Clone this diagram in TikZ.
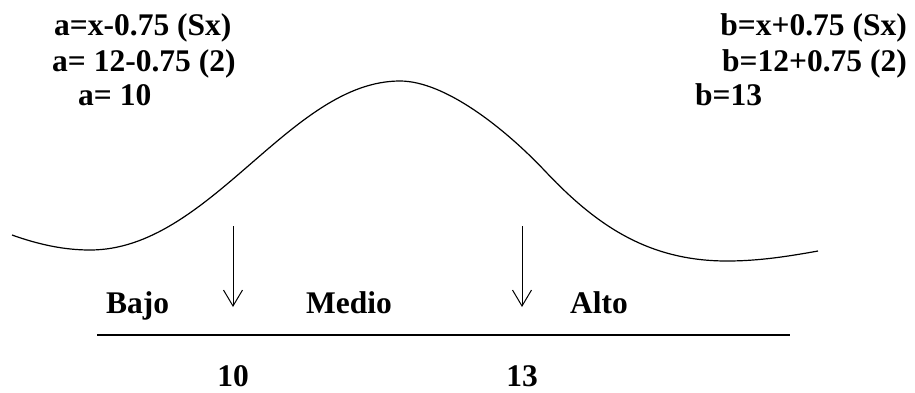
\documentclass[tikz,border=0pt]{standalone}
\usepackage{fontspec}
\setmainfont{Liberation Serif}
\usetikzlibrary{arrows.meta}
\begin{document}
\begin{tikzpicture}[x=1pt,y=-1pt,
  lbl/.style={font=\fontsize{31.5}{36}\selectfont\bfseries,inner sep=0pt},
  pointer/.style={line width=1pt,-{Straight Barb[length=16pt,width=19pt,line width=1pt]}}]
\useasboundingbox (0,0) rectangle (915,392);
\node[lbl,anchor=base west] (a1) at (54,35) {a=x-0.75 (Sx)};
\node[lbl,anchor=base west] (a2) at (52,71) {a= 12-0.75 (2)};
\node[lbl,anchor=base west] (a3) at (78,105) {a= 10};
\node[lbl,anchor=base east] (b1) at (907,35) {b=x+0.75 (Sx)};
\node[lbl,anchor=base east] (b2) at (907,71) {b=12+0.75 (2)};
\node[lbl,anchor=base west] (b3) at (695,105) {b=13};
% bell curve
\draw[line width=1.2pt] (12,235) .. controls (40,245) and (65,250) .. (90,250)
  .. controls (210,250) and (290,81) .. (400,81)
  .. controls (445,81) and (505,128.6) .. (545,171)
  .. controls (595,224) and (647,261) .. (727,261)
  .. controls (760,261) and (790,256) .. (818,251);
\coordinate (lt) at (233,226);
\coordinate (lb) at (233,307);
\coordinate (rt) at (522,226);
\coordinate (rb) at (522,307);
\draw[pointer] (lt) -- (lb);
\draw[pointer] (rt) -- (rb);
\node[lbl,anchor=base west] (bajo) at (106,313) {Bajo};
\node[lbl,anchor=base west] (medio) at (306,313) {Medio};
\node[lbl,anchor=base west] (alto) at (570,313) {Alto};
\coordinate (axl) at (97,335);
\coordinate (axr) at (790,335);
\draw[line width=1.4pt] (axl) -- (axr);
\node[lbl,anchor=base] (n10) at (233,386) {10};
\node[lbl,anchor=base] (n13) at (522,386) {13};
\end{tikzpicture}
\end{document}
